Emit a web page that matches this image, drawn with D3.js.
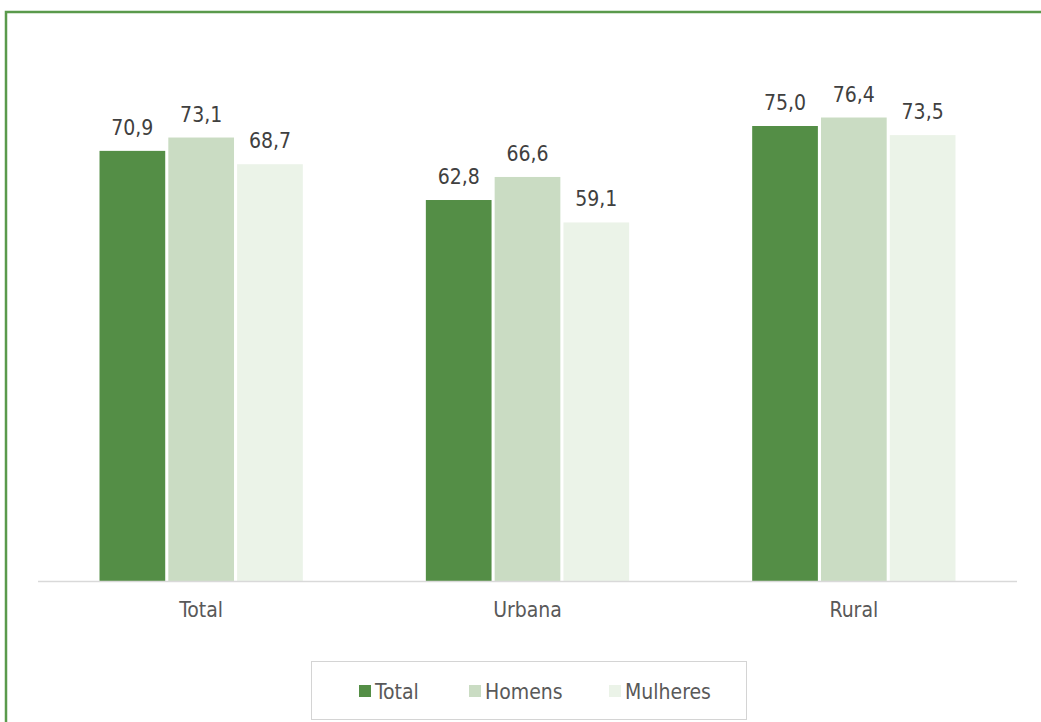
<!DOCTYPE html>
<html>
<head>
<meta charset="utf-8">
<script src="https://cdn.jsdelivr.net/npm/d3@7"></script>
<style>
  html, body { margin: 0; padding: 0; background: #fff; }
  svg { display: block; }
</style>
</head>
<body>
<svg id="chart" width="1041" height="722"></svg>
<script>
// Categories, series and values
const categories = ["Total", "Urbana", "Rural"];
const seriesNames = ["Total", "Homens", "Mulheres"];
const totalValues = [70.9, 62.8, 75.0];
const homensValues = [73.1, 66.6, 76.4];
const mulheresValues = [68.7, 59.1, 73.5];
const seriesColors = ["#548e46", "#cadcc3", "#ebf3e8"];

const seriesValues = [totalValues, homensValues, mulheresValues];
const rows = categories.map((c, i) => ({
  category: c,
  values: seriesNames.map((s, j) => ({ series: s, value: seriesValues[j][i], color: seriesColors[j] }))
}));

const svg = d3.select("#chart");
const fontFamily = "'DejaVu Sans Condensed', 'DejaVu Sans', sans-serif";
const textColor = "#595959";

// Outer frame
svg.append("path")
  .attr("d", "M6,730 L6,12 L1050,12")
  .attr("fill", "none")
  .attr("stroke", "#5a9a4c")
  .attr("stroke-width", 2.5);

// Plot area
const plot = { left: 38, right: 1017, top: 35, bottom: 581 };

const x0 = d3.scaleBand()
  .domain(categories)
  .range([plot.left, plot.right])
  .paddingInner(0.377)
  .paddingOuter(0.1885);

const x1 = d3.scaleBand()
  .domain(seriesNames)
  .range([0, x0.bandwidth()])
  .paddingInner(0.045);

const y = d3.scaleLinear()
  .domain([0, 90])
  .range([plot.bottom, plot.top]);

const groups = svg.append("g").selectAll("g")
  .data(rows)
  .join("g")
  .attr("transform", d => `translate(${x0(d.category)},0)`);

groups.selectAll("rect")
  .data(d => d.values)
  .join("rect")
  .attr("x", d => x1(d.series))
  .attr("y", d => y(d.value))
  .attr("width", x1.bandwidth())
  .attr("height", d => y(0) - y(d.value))
  .attr("fill", d => d.color);

// Value labels
const fmt = v => d3.format(".1f")(v).replace(".", ",");
groups.selectAll("text")
  .data(d => d.values)
  .join("text")
  .attr("x", d => x1(d.series) + x1.bandwidth() / 2)
  .attr("y", d => y(d.value) - 16)
  .attr("text-anchor", "middle")
  .attr("font-family", fontFamily)
  .attr("font-size", 21)
  .attr("fill", "#404040")
  .text(d => fmt(d.value));

// Category axis
const xAxis = svg.append("g")
  .attr("transform", `translate(0,${plot.bottom})`)
  .call(d3.axisBottom(x0).tickSize(0).tickPadding(0));
xAxis.select(".domain")
  .attr("d", `M${plot.left},0.5H${plot.right}`)
  .attr("stroke", "#d9d9d9")
  .attr("stroke-width", 1.5);
xAxis.selectAll("text")
  .attr("dy", null)
  .attr("y", 36)
  .attr("font-family", fontFamily)
  .attr("font-size", 21)
  .attr("fill", textColor);

// Legend
const legend = svg.append("g");
legend.append("rect")
  .attr("x", 311.5).attr("y", 661.5)
  .attr("width", 435).attr("height", 58)
  .attr("fill", "#fff")
  .attr("stroke", "#d4d4d4")
  .attr("stroke-width", 1);

const legendX = [359, 469, 609];
const items = legend.selectAll("g.item")
  .data(seriesNames.map((s, i) => ({ name: s, color: seriesColors[i], x: legendX[i] })))
  .join("g")
  .attr("class", "item")
  .attr("transform", d => `translate(${d.x},685)`);
items.append("rect")
  .attr("width", 12).attr("height", 12)
  .attr("fill", d => d.color);
items.append("text")
  .attr("x", 16).attr("y", 13.5)
  .attr("font-family", fontFamily)
  .attr("font-size", 21)
  .attr("fill", textColor)
  .text(d => d.name);
</script>
</body>
</html>
